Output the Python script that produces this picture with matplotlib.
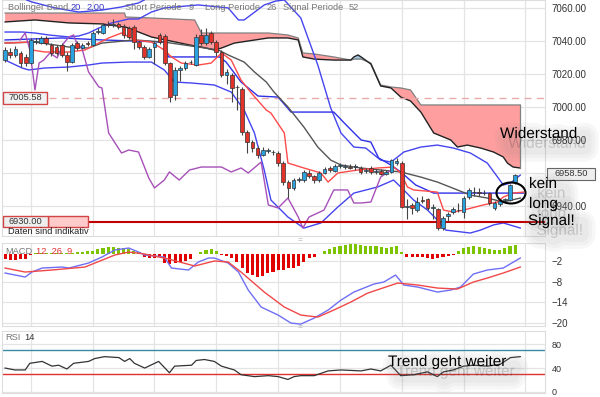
import numpy as np
import matplotlib
matplotlib.use('Agg')
import matplotlib.pyplot as plt
import matplotlib.patheffects as pe
from matplotlib.patches import Rectangle, Ellipse

plt.rcParams['font.family'] = ['Liberation Sans', 'DejaVu Sans']

# candles (index 0..99)
opens = [7028.4, 7033.3, 7031.5, 7032.7, 7030.3, 7026.6, 7039.3, 7038.7, 7041.8, 7037.5,
         7036.3, 7037.5, 7031.5, 7027.2, 7038.7, 7035.7, 7038.7, 7037.5, 7045.4, 7044.8,
         7050.3, 7049.6, 7050.3, 7048.4, 7047.8, 7048.4, 7039.3, 7036.3, 7030.3, 7036.3,
         7043.6, 7043.0, 7026.6, 7007.2, 7022.4, 7023.6, 7027.2, 7025.4, 7043.6, 7038.7,
         7044.8, 7039.3, 7033.3, 7019.4, 7019.4, 7012.1, 7010.9, 6984.8, 6978.7, 6975.1,
         6970.9, 6973.3, 6972.7, 6972.1, 6966.0, 6954.5, 6950.9, 6955.7, 6955.7, 6960.0,
         6958.1, 6955.7, 6960.0, 6963.0, 6961.2, 6964.2, 6963.6, 6963.6, 6963.6, 6963.0,
         6961.2, 6963.0, 6960.6, 6961.2, 6959.4, 6960.6, 6966.0, 6966.0, 6939.4, 6940.6,
         6937.5, 6943.6, 6944.2, 6938.8, 6938.1, 6926.6, 6933.9, 6936.3, 6937.5, 6936.3,
         6945.4, 6948.4, 6948.4, 6947.8, 6947.8, 6938.8, 6941.2, 6943.6, 6943.6, 6954.5]
closes = [7034.5, 7031.5, 7035.1, 7026.6, 7026.6, 7040.6, 7040.0, 7041.8, 7038.7, 7032.7,
          7032.7, 7031.5, 7027.2, 7037.5, 7035.7, 7037.5, 7038.1, 7044.8, 7046.0, 7049.6,
          7049.6, 7050.3, 7048.4, 7043.6, 7042.4, 7039.3, 7036.3, 7030.3, 7035.1, 7038.7,
          7039.3, 7026.6, 7006.0, 7022.4, 7023.6, 7026.6, 7027.0, 7042.4, 7038.7, 7043.6,
          7039.3, 7033.3, 7019.4, 7021.2, 7011.5, 7011.8, 6984.8, 6978.7, 6975.1, 6970.9,
          6973.9, 6973.6, 6972.4, 6966.0, 6954.5, 6950.9, 6955.7, 6956.0, 6960.6, 6958.1,
          6955.7, 6960.0, 6962.4, 6961.8, 6964.2, 6964.5, 6963.9, 6963.3, 6963.9, 6960.6,
          6961.5, 6960.6, 6960.9, 6959.4, 6960.6, 6967.8, 6967.2, 6939.4, 6939.6, 6938.8,
          6942.4, 6943.3, 6938.8, 6939.4, 6926.6, 6932.7, 6935.1, 6938.1, 6937.8, 6944.8,
          6949.7, 6948.7, 6948.1, 6948.1, 6941.8, 6941.8, 6943.0, 6943.9, 6952.7, 6958.5]
highs = [7036.5, 7036.0, 7037.0, 7034.0, 7032.0, 7041.5, 7041.5, 7043.0, 7043.0, 7039.0,
         7037.5, 7038.5, 7033.0, 7039.0, 7040.0, 7039.0, 7040.0, 7046.0, 7048.0, 7051.0,
         7052.0, 7053.0, 7051.5, 7050.0, 7049.0, 7049.5, 7040.5, 7037.5, 7036.5, 7040.0,
         7045.0, 7044.5, 7027.5, 7024.0, 7025.0, 7028.0, 7028.5, 7044.0, 7047.0, 7048.0,
         7046.0, 7040.5, 7034.5, 7023.0, 7020.5, 7013.0, 7012.0, 6986.0, 6980.0, 6976.5,
         6975.5, 6975.0, 6974.0, 6973.5, 6967.0, 6955.5, 6957.0, 6957.5, 6961.5, 6961.5,
         6959.0, 6961.0, 6963.5, 6964.0, 6965.5, 6966.0, 6965.5, 6965.5, 6965.5, 6964.5,
         6963.0, 6964.0, 6962.5, 6962.5, 6961.5, 6968.5, 6969.0, 6967.0, 6944.0, 6941.5,
         6945.5, 6946.0, 6945.0, 6941.0, 6939.0, 6934.0, 6936.5, 6939.5, 6942.0, 6946.0,
         6951.0, 6951.5, 6951.0, 6949.5, 6948.5, 6943.0, 6944.0, 6945.0, 6953.5, 6959.5]
lows = [7027.0, 7029.5, 7030.0, 7024.0, 7025.0, 7026.0, 7038.0, 7038.0, 7037.5, 7031.0,
        7031.5, 7030.5, 7021.5, 7026.5, 7034.5, 7035.0, 7037.0, 7037.0, 7044.0, 7044.0,
        7048.5, 7048.5, 7047.0, 7042.0, 7041.0, 7035.0, 7035.0, 7029.0, 7029.5, 7026.0,
        7038.0, 7025.5, 7003.0, 7004.0, 7016.0, 7022.5, 7026.0, 7025.0, 7037.5, 7037.5,
        7038.0, 7031.0, 7018.0, 7014.0, 7003.0, 6998.0, 6983.0, 6972.0, 6973.0, 6969.0,
        6970.0, 6972.0, 6971.0, 6964.5, 6953.0, 6945.0, 6949.5, 6954.5, 6954.5, 6957.0,
        6954.0, 6954.5, 6959.5, 6960.5, 6960.5, 6963.0, 6962.5, 6962.5, 6962.0, 6959.5,
        6960.0, 6959.5, 6959.5, 6958.5, 6958.5, 6960.0, 6965.0, 6938.5, 6932.0, 6935.0,
        6936.5, 6942.0, 6937.5, 6932.0, 6925.5, 6925.5, 6931.0, 6935.0, 6936.5, 6933.0,
        6944.5, 6946.0, 6946.0, 6946.5, 6940.5, 6937.5, 6940.0, 6942.5, 6943.0, 6953.5]

# bollinger band 20 2.00
bb_up_x = [0, 3.3, 5.8, 8.5, 12.4, 14.3, 16.2, 18.2, 20.7, 24.0, 25.9, 28.4, 30.9, 37.5, 43.3,
           45.3, 46.4, 50.3, 52.6, 54.2, 57.4, 60.7, 63.2, 65.2, 67.7, 70.0, 72.9, 74.9, 76.2,
           77.4, 80.7, 83.9, 87.0, 90.3, 93.6, 95.6, 96.7, 98.1, 100.0]
bb_up = [7045.4, 7045.4, 7044.8, 7043.6, 7042.4, 7043.0, 7044.8, 7047.8, 7050.9, 7053.3, 7053.3,
         7057.5, 7060.0, 7061.8, 7060.0, 7052.7, 7052.7, 7061.8, 7064.2, 7064.8, 7053.9, 7025.4,
         6999.4, 6984.2, 6975.7, 6975.1, 6967.8, 6966.6, 6969.7, 6972.7, 6975.7, 6976.9, 6975.1,
         6972.1, 6966.0, 6957.5, 6952.7, 6953.9, 6958.7]
bb_top_x = [4.2, 5.2, 9.7, 14.3, 18.8, 22.6, 25.9, 27.0]
bb_top = [7064.8, 7063.6, 7060.0, 7057.5, 7058.7, 7060.6, 7063.0, 7064.8]
bb_mid_x = [0, 5.8, 12.4, 16.2, 18.8, 25.1, 30.9, 37.5, 41.4, 43.3, 46.4, 48.4, 50.7, 52.2, 54.9,
            58.0, 60.7, 63.2, 65.2, 69.1, 72.9, 76.8, 80.7, 83.9, 87.8, 90.3, 93.6, 96.7, 100.0]
bb_mid = [7038.7, 7039.3, 7036.3, 7035.7, 7038.7, 7040.6, 7039.3, 7036.3, 7034.5, 7031.5, 7027.2,
          7021.2, 7015.1, 7009.0, 7000.0, 6987.8, 6975.7, 6967.8, 6964.8, 6963.0, 6961.8, 6960.6,
          6957.5, 6954.5, 6949.7, 6946.6, 6944.8, 6942.4, 6944.8]
bb_low_x = [0, 3.3, 4.6, 7.7, 12.4, 16.2, 18.8, 24.0, 28.4, 30.9, 32.9, 36.2, 40.6, 43.9, 46.4,
            48.4, 50.3, 51.6, 54.9, 58.0, 61.3, 64.6, 67.7, 72.3, 75.4, 76.8, 79.3, 82.0, 83.9,
            85.5, 90.3, 92.3, 94.8, 96.7, 99.4, 100.0]
bb_low = [7028.4, 7023.6, 7022.4, 7023.6, 7024.2, 7025.4, 7026.6, 7027.2, 7027.2, 7022.4, 7015.1,
          7014.5, 7013.3, 7009.0, 6998.1, 6984.2, 6961.8, 6943.6, 6933.3, 6926.6, 6929.7, 6939.4,
          6947.8, 6951.5, 6955.7, 6951.5, 6943.6, 6937.5, 6931.5, 6925.4, 6923.6, 6925.4, 6928.5,
          6929.7, 6927.2, 6926.6]

# ichimoku 9 / 26 / 52
tenkan_x = [0, 4.6, 5.2, 7.7, 12.4, 15.5, 17.4, 20.1, 22.6, 25.1, 28.4, 30.9, 32.3, 34.2, 37.5,
            40.0, 42.0, 43.9, 45.8, 47.8, 50.7, 51.6, 54.2, 54.9, 58.0, 61.3, 62.7, 64.6, 68.5,
            72.3, 75.4, 76.8, 78.1, 79.3, 83.9, 85.1, 87.0, 89.0, 92.8, 95.6, 96.7, 98.6, 100.6]
tenkan = [7038.7, 7039.3, 7034.5, 7033.3, 7033.3, 7034.5, 7037.5, 7041.8, 7044.8, 7040.6, 7039.3,
          7034.5, 7030.3, 7026.6, 7025.4, 7026.6, 7032.7, 7028.4, 7016.3, 7008.4, 6998.1, 6996.3,
          6984.2, 6966.0, 6963.0, 6960.0, 6954.5, 6960.0, 6961.8, 6963.0, 6963.6, 6960.0, 6951.5,
          6949.7, 6948.4, 6937.5, 6936.3, 6937.5, 6940.6, 6942.4, 6945.4, 6947.8, 6948.4]
kijun_x = [0, 11.0, 18.8, 24.6, 30.9, 31.7, 41.6, 42.9, 45.8, 49.1, 53.0, 55.5, 63.8, 66.2, 69.1,
           71.0, 72.5, 74.9, 76.8, 79.7, 83.2, 100.6]
kijun = [7040.6, 7041.8, 7040.6, 7040.0, 7039.3, 7030.3, 7030.3, 7027.2, 7015.1, 7006.6, 7006.0,
         6996.9, 6996.9, 6989.1, 6980.0, 6978.7, 6969.1, 6964.8, 6960.6, 6952.7, 6947.8, 6947.8]
chikou_x = [2.9, 3.9, 4.8, 5.8, 6.6, 7.5, 8.7, 10.1, 11.4, 12.4, 13.3, 13.9, 14.9, 16.2, 18.2,
            18.8, 20.1, 22.6, 24.0, 25.9, 27.9, 29.0, 30.9, 31.9, 33.8, 35.8, 38.1, 42.0, 43.9,
            45.8, 47.2, 49.7, 51.1, 53.0, 54.9, 56.9, 57.8, 59.0, 61.9, 63.8, 66.5, 67.7, 69.1,
            71.0, 72.9, 74.9]
chikou = [7040.6, 7044.8, 7034.5, 7010.3, 7026.6, 7028.4, 7032.7, 7029.7, 7038.7, 7042.4, 7043.6,
          7038.7, 7035.7, 7021.2, 7012.1, 7011.5, 6984.2, 6972.1, 6973.9, 6972.7, 6956.9, 6950.9,
          6955.7, 6960.6, 6955.7, 6961.8, 6963.6, 6963.6, 6960.6, 6963.0, 6960.0, 6966.6, 6940.6,
          6938.8, 6944.8, 6933.3, 6926.6, 6933.3, 6937.5, 6949.7, 6949.7, 6941.8, 6941.8, 6942.4,
          6957.5, 6961.8]
cloud_x = [0, 5.8, 12.4, 18.8, 23.2, 23.4, 28.4, 36.8, 38.1, 40.6, 42.0, 44.5, 51.1, 54.9, 56.9,
           57.8, 60.0, 63.8, 67.1, 67.7, 68.5, 69.1, 71.0, 72.9, 74.9, 76.8, 78.7, 80.7, 83.2,
           86.5, 87.8, 89.7, 92.3, 94.8, 96.7, 97.5, 98.6, 100.0]
span_a = [7051.5, 7052.7, 7050.9, 7050.3, 7048.4, 7048.4, 7042.4, 7036.9, 7036.3, 7034.5, 7035.7,
          7038.7, 7041.8, 7041.8, 7040.6, 7030.3, 7029.0, 7028.4, 7028.4, 7030.3, 7031.5, 7030.3,
          7026.0, 7012.7, 7011.5, 7006.0, 7003.6, 6996.9, 6984.2, 6980.0, 6975.7, 6976.9, 6975.1,
          6972.7, 6969.7, 6966.0, 6963.6, 6963.0]
span_b = [7056.9, 7056.9, 7056.9, 7056.9, 7056.9, 7054.5, 7053.9, 7052.7, 7044.8, 7044.8, 7044.8,
          7044.8, 7044.8, 7043.6, 7041.8, 7032.7, 7032.1, 7030.3, 7028.4, 7029.0, 7029.0, 7029.0,
          7026.6, 7013.3, 7012.1, 7011.5, 7010.3, 7001.2, 7001.2, 7001.2, 7001.2, 7001.2, 7001.2,
          7001.2, 7001.2, 7001.2, 7001.2, 7001.2]

# MACD 12 26 9
macd_x = [0, 3.9, 5.2, 7.2, 11.0, 12.4, 16.2, 18.8, 21.3, 24.0, 25.9, 27.1, 30.9, 32.3, 35.6,
          37.5, 39.5, 40.6, 43.3, 45.3, 47.2, 49.7, 53.0, 55.5, 57.4, 60.0, 62.7, 65.2, 67.7,
          71.6, 73.5, 75.8, 77.4, 80.1, 83.9, 86.5, 88.4, 90.9, 93.6, 96.7, 100.0]
macd = [-5.51, -6.68, -5.22, -4.05, -3.76, -4.05, -2.59, -0.83, 1.22, 1.80, 0.63, -0.24, -0.83,
        -4.05, -4.63, -2.29, -1.12, -1.12, -2.59, -5.22, -10.49, -15.46, -17.8, -20.15, -20.44,
        -18.68, -16.34, -13.42, -11.07, -8.73, -8.15, -6.1, -9.02, -9.61, -11.07, -10.49, -9.61,
        -5.8, -4.63, -4.05, -1.12]
signal_x = [0, 3.9, 9.1, 15.5, 21.3, 24.0, 27.1, 31.7, 36.8, 40.6, 43.3, 45.8, 50.3, 54.2, 57.4,
            60.7, 63.8, 67.1, 70.4, 76.2, 80.1, 83.9, 87.8, 90.9, 93.6, 96.7, 100.0]
signal = [-4.05, -5.22, -4.63, -3.76, -0.24, 0.63, 0.05, -1.41, -3.46, -2.0, -2.29, -5.22, -11.07,
          -15.46, -17.8, -18.39, -16.34, -14.0, -11.37, -8.44, -9.02, -9.9, -10.2, -8.15, -6.98,
          -5.51, -3.76]
hist = [-1.5, -1.6, -1.6, -1.5, -1.3, -0.1, 0.2, 0.2, 0.3, 0.3, 0.2, 0.2, 0.3, 0.4, 0.5, 0.7, 0.8,
        0.9, 1.5, 1.8, 2.0, 2.0, 1.9, 1.8, 1.6, 1.0, 0.5, -0.7, -1.0, -1.0, -0.9, -2.6, -2.8, -2.6,
        -2.3, -2.0, -1.3, 0.1, 0.5, 1.2, 1.4, 1.0, -0.3, -0.6, -1.2, -2.2, -4.1, -5.6, -6.1, -6.6,
        -6.3, -5.6, -5.1, -4.6, -4.6, -4.1, -3.9, -3.6, -2.2, -1.2, -0.7, 0.1, 1.0, 1.5, 2.1, 2.5,
        2.7, 2.9, 2.9, 2.7, 2.5, 2.5, 2.3, 2.1, 1.9, 2.1, 2.3, 0.5, -0.7, -0.7, -0.7, -0.9, -1.0,
        -1.4, -1.0, -0.7, -0.4, -0.1, 0.9, 1.7, 2.1, 2.3, 2.1, 1.7, 1.5, 1.3, 1.3, 1.7, 2.4, 2.7]

# RSI 14
rsi_x = [0, 1.9, 3.9, 4.8, 7.2, 9.1, 10.4, 12.0, 13.3, 16.2, 17.4, 19.3, 22.1, 23.2, 24.2, 25.1,
         27.1, 29.8, 31.9, 32.9, 36.2, 37.1, 38.7, 40.6, 42.0, 44.5, 45.8, 48.4, 51.1, 53.0, 54.9,
         56.1, 57.4, 60.0, 62.7, 65.2, 69.1, 71.0, 72.9, 74.9, 76.8, 79.3, 82.0, 83.9, 85.1, 87.0,
         89.0, 90.9, 93.6, 96.1, 98.1, 100.0]
rsi = [40.0, 36.8, 36.8, 48.0, 51.2, 43.2, 44.8, 38.4, 48.0, 51.2, 56.0, 59.2, 57.6, 51.2, 56.0,
       48.0, 40.0, 51.2, 32.0, 43.2, 44.8, 52.8, 54.4, 51.2, 43.2, 36.8, 28.8, 25.6, 27.2, 25.6,
       20.8, 25.6, 27.2, 27.2, 35.2, 36.8, 35.2, 38.4, 35.2, 44.8, 27.2, 28.8, 33.6, 25.6, 33.6,
       36.8, 43.2, 44.8, 43.2, 46.4, 57.6, 59.2]

last_price = 6958.50
marker_price = 7005.58
support = 6930.00


def fx(px):
    return px / 600


def fy(py):
    return 1 - py / 397


fig = plt.figure(figsize=(6, 3.97), dpi=100)
fig.patch.set_facecolor('white')
ax = fig.add_axes([fx(2), fy(236), 543 / 600, 236 / 397])
ax_m = fig.add_axes([fx(2), fy(326), 543 / 600, 83 / 397])
ax_r = fig.add_axes([fx(2), fy(393), 543 / 600, 62 / 397])

vgrid = [5, 17, 29, 41, 53, 65, 77, 89, 101]
for a in (ax, ax_m, ax_r):
    a.set_xlim(-0.6, 104.8)
    a.set_xticks(vgrid)
    a.set_xticklabels([])
    a.grid(True, color='#e4e4e4', lw=0.9)
    a.set_axisbelow(True)
    a.yaxis.tick_right()
    a.tick_params(length=0, labelsize=7, labelcolor='#333333', pad=5)
    for s in a.spines.values():
        s.set_color('#dddddd')

# main panel (the 6960 label sits under the last-price box)
ax.set_ylim(6921.8, 7064.8)
ax.set_yticks([7060, 7040, 7020, 7000, 6980, 6960, 6940])
ax.set_yticklabels(['7060.00', '7040.00', '7020.00', '7000.00', '6980.00', '', '6940.00'])

ca = np.array(span_a)
cb = np.array(span_b)
ax.fill_between(cloud_x, ca, cb, where=cb >= ca, interpolate=True, color='#ff9e9e', lw=0, zorder=1)
ax.fill_between(cloud_x, ca, cb, where=cb < ca, interpolate=True, color='#9fc3dc', lw=0, zorder=1)
ax.plot(cloud_x, span_b, color='#808080', lw=0.9, zorder=2)
ax.plot(cloud_x, span_a, color='#222222', lw=1.0, zorder=2)
ax.plot([cloud_x[-1], cloud_x[-1]], [span_a[-1], span_b[-1]], color='#808080', lw=0.9, zorder=2)

ax.plot(bb_up_x, bb_up, color='#4545f0', lw=1, zorder=3)
ax.plot(bb_top_x, bb_top, color='#4545f0', lw=1, zorder=3)
ax.plot(bb_low_x, bb_low, color='#4545f0', lw=1, zorder=3)
ax.plot(kijun_x, kijun, color='#3030e8', lw=1, zorder=3)
ax.plot(bb_mid_x, bb_mid, color='#555555', lw=1, zorder=3)
ax.plot(tenkan_x, tenkan, color='#ff4a4a', lw=1, zorder=3)
ax.plot(chikou_x, chikou, color='#a650b8', lw=1, zorder=3)

ax.axhline(marker_price, xmin=fx(47) / (543 / 600), color='#e8aaaa', lw=1, ls=(0, (5, 4)), zorder=2)
ax.axhline(support, xmin=fx(86) / (543 / 600), color='#c00000', lw=1.5, zorder=3)

idx = np.arange(len(opens))
o = np.array(opens)
c = np.array(closes)
up = c >= o
ax.vlines(idx, lows, highs, color='#444444', lw=0.8, zorder=4)
body_lo = np.minimum(o, c)
body_h = np.maximum(np.abs(c - o), 0.35)
ax.bar(idx[up], body_h[up], bottom=body_lo[up], width=0.72, color='#2aa2df', edgecolor='#333333',
       lw=0.5, zorder=5)
ax.bar(idx[~up], body_h[~up], bottom=body_lo[~up], width=0.72, color='#e2332b', edgecolor='#333333',
       lw=0.5, zorder=5)

# MACD panel
ax_m.set_ylim(-21.0, 3.27)
ax_m.set_yticks([-2, -8, -14, -20])
hist = np.array(hist)
hx = np.arange(len(hist))
ax_m.bar(hx[hist >= 0], hist[hist >= 0], width=0.6, color='#7cc400', zorder=2)
ax_m.bar(hx[hist < 0], hist[hist < 0], width=0.6, color='#e00000', zorder=2)
ax_m.plot(macd_x, macd, color='#6f6ff5', lw=1, zorder=3)
ax_m.plot(signal_x, signal, color='#f04848', lw=1, zorder=3)

# RSI panel
ax_r.set_ylim(-2, 102.4)
ax_r.set_yticks([0, 40, 80])
ax_r.tick_params(labelsize=6.5)
ax_r.axhline(70, color='#3a8aa6', lw=1, zorder=2)
ax_r.axhline(30, color='#e03030', lw=1, zorder=2)
ax_r.plot(rsi_x, rsi, color='#333333', lw=0.9, zorder=3)

# headers
hdr = [(8, 'Bollinger Band', '#777777'), (71, '20', '#3838c8'), (87, '2.00', '#3838c8'),
       (125, 'Short Periode', '#777777'), (189, '9', '#777777'),
       (205, 'Long Periode', '#777777'), (267, '26', '#777777'),
       (283, 'Signal Periode', '#777777'), (349, '52', '#777777')]
for x, s, col in hdr:
    fig.text(fx(x), fy(7), s, fontsize=6.7, color=col, va='center', zorder=6)
fig.text(fx(5), fy(252), 'MACD', fontsize=6.7, color='#777777', va='center')
fig.text(fx(36), fy(252), '12  26  9', fontsize=6.7, color='#e03030', va='center')
fig.text(fx(5), fy(338), 'RSI', fontsize=6.7, color='#777777', va='center')
fig.text(fx(24), fy(338), '14', fontsize=6.7, color='#333333', va='center')
for py in (241, 328):
    fig.text(fx(300), fy(py), '=', fontsize=6, color='#aaaaaa', ha='center', va='center')

# price boxes
fig.add_artist(Rectangle((fx(3), fy(104)), 44 / 600, 12 / 397, transform=fig.transFigure,
                         fc='#f2f2f2', ec='#d04545', lw=1))
fig.text(fx(25), fy(98), '%.2f' % marker_price, fontsize=6.7, color='#333333', ha='center',
         va='center')
fig.add_artist(Rectangle((fx(48), fy(227)), 40 / 600, 11 / 397, transform=fig.transFigure,
                         fc='#ffcaca', ec='#d04545', lw=1))
fig.add_artist(Rectangle((fx(3), fy(227)), 45 / 600, 11 / 397, transform=fig.transFigure,
                         fc='#eeeeee', ec='#d04545', lw=1))
fig.text(fx(25), fy(221.5), '%.2f' % support, fontsize=6.7, color='#333333', ha='center',
         va='center')
fig.text(fx(8), fy(232), 'Daten sind indikativ', fontsize=6.7, color='#222222', va='center')
fig.add_artist(Rectangle((fx(547), fy(180)), 48 / 600, 12 / 397, transform=fig.transFigure,
                         fc='#eeeeee', ec='#666666', lw=0.8, zorder=4))
fig.text(fx(571), fy(174), '%.2f' % last_price, fontsize=6.7, color='#333333', ha='center',
         va='center', zorder=5)

# handwritten notes with a blurred grey shadow
soft = [pe.Stroke(offset=(6, -7), linewidth=w, foreground='#808080', alpha=0.06)
        for w in (20, 15, 10)]
soft.append(pe.Normal())


def note(x, y, s):
    fig.text(fx(x), fy(y), s, fontsize=11, color='black', va='center', zorder=7,
             path_effects=soft)


note(500, 134, 'Widerstand')
note(529, 184, 'kein')
note(529, 204, 'long')
note(528, 221, 'Signal!')
note(388, 362, 'Trend geht weiter')
fig.add_artist(Ellipse((fx(511), fy(193)), 29 / 600, 21 / 397, transform=fig.transFigure,
                       fill=False, ec='black', lw=1.5, zorder=7))

fig.savefig('out.png', dpi=100)
